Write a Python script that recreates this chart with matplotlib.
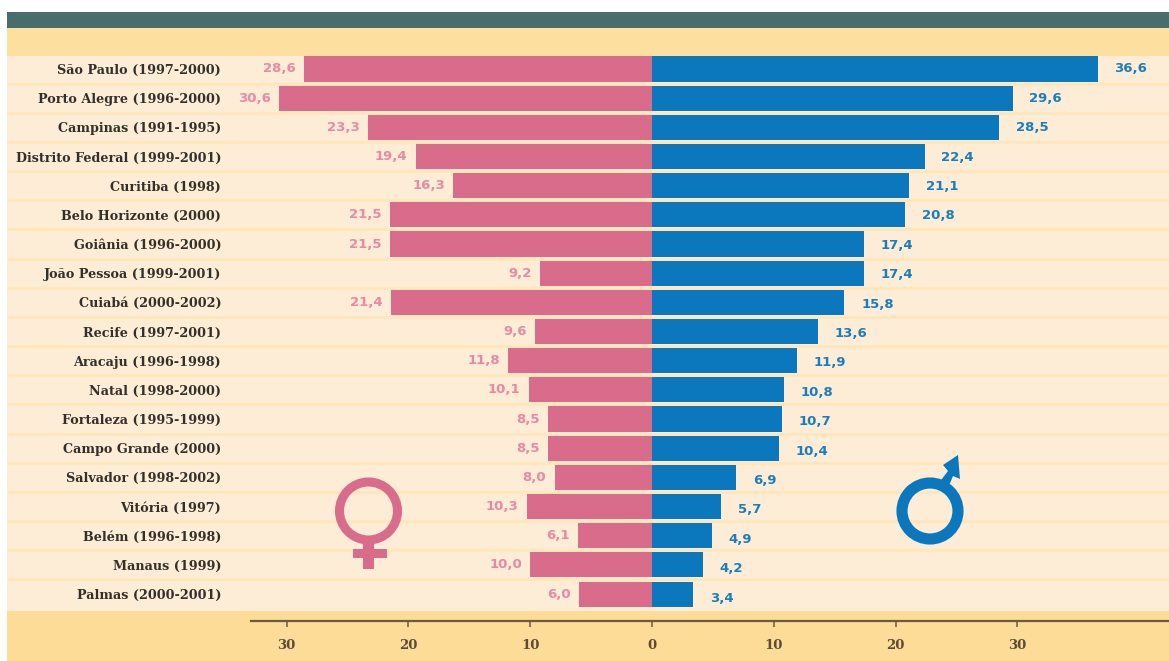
import matplotlib
matplotlib.use('Agg')
import matplotlib.pyplot as plt
from matplotlib.patches import Rectangle, Circle, Polygon

cities = ['São Paulo (1997-2000)', 'Porto Alegre (1996-2000)', 'Campinas (1991-1995)',
          'Distrito Federal (1999-2001)', 'Curitiba (1998)', 'Belo Horizonte (2000)',
          'Goiânia (1996-2000)', 'João Pessoa (1999-2001)', 'Cuiabá (2000-2002)',
          'Recife (1997-2001)', 'Aracaju (1996-1998)', 'Natal (1998-2000)',
          'Fortaleza (1995-1999)', 'Campo Grande (2000)', 'Salvador (1998-2002)',
          'Vitória (1997)', 'Belém (1996-1998)', 'Manaus (1999)', 'Palmas (2000-2001)']
women = [28.6, 30.6, 23.3, 19.4, 16.3, 21.5, 21.5, 9.2, 21.4, 9.6,
         11.8, 10.1, 8.5, 8.5, 8.0, 10.3, 6.1, 10.0, 6.0]
men = [36.6, 29.6, 28.5, 22.4, 21.1, 20.8, 17.4, 17.4, 15.8, 13.6,
       11.9, 10.8, 10.7, 10.4, 6.9, 5.7, 4.9, 4.2, 3.4]
x_ticks = [-30, -20, -10, 0, 10, 20, 30]

W, H = 1169, 661
PINK = '#d96b8b'
BLUE = '#0b78bd'
SERIF = 'DejaVu Serif'

fig = plt.figure(figsize=(W / 100, H / 100), dpi=100, facecolor='white')

# background in pixel coordinates
bg = fig.add_axes([0, 0, 1, 1], zorder=0)
bg.set_xlim(0, W)
bg.set_ylim(H, 0)
bg.axis('off')
bg.add_patch(Rectangle((7, 12), W - 7, 16, color='#476e6c', lw=0))
bg.add_patch(Rectangle((7, 28), W - 7, 28, color='#fde0a0', lw=0))
bg.add_patch(Rectangle((7, 56), W - 7, 555, color='#fdecd6', lw=0))
bg.add_patch(Rectangle((7, 611), W - 7, 50, color='#fddc98', lw=0))
for i in range(1, len(cities)):
    bg.plot([7, W], [54.4 + 29.17 * i] * 2, color='#fee7ba', lw=2.2, solid_capstyle='butt')

# chart axes: x 0 at px 652, 12.18 px per unit, rows 29.17 px apart
left, right, top, bottom = 251, W, 56, 621
ax = fig.add_axes([left / W, 1 - bottom / H, (right - left) / W, (bottom - top) / H], zorder=1)
ax.patch.set_alpha(0)
ax.set_xlim((left - 652) / 12.18, (right - 652) / 12.18)
ax.set_ylim((bottom - 69) / 29.17, (top - 69) / 29.17)

rows = range(len(cities))
ax.barh(rows, [-v for v in women], height=0.86, color=PINK, lw=0)
ax.barh(rows, men, height=0.86, color=BLUE, lw=0)

for i in rows:
    ax.annotate(f'{women[i]:.1f}'.replace('.', ','), (-women[i], i), xytext=(-6, 0),
                textcoords='offset points', ha='right', va='center', color='#e58ba3',
                fontsize=9.5, fontweight='bold', family='DejaVu Sans')
    ax.annotate(f'{men[i]:.1f}'.replace('.', ','), (men[i], i), xytext=(12, -0.16 * i),
                textcoords='offset points', ha='left', va='center', color='#1a7dbd',
                fontsize=9.5, fontweight='bold', family='DejaVu Sans')

for name in ['top', 'right', 'left']:
    ax.spines[name].set_visible(False)
ax.spines['bottom'].set_color('#6b5a40')
ax.spines['bottom'].set_linewidth(1.6)

ax.set_yticks(list(rows))
ax.set_yticklabels(cities, family=SERIF, fontweight='bold', fontsize=9.2, color='#33302a')
ax.tick_params(axis='y', length=0, pad=21.5)
ax.set_xticks(x_ticks)
ax.set_xticklabels([str(abs(t)) for t in x_ticks], family=SERIF, fontweight='bold',
                   fontsize=9.5, color='#5a4c38')
ax.tick_params(axis='x', length=4, width=1.1, color='#6b5a40', pad=9)

# gender symbols, pixel coordinates
sym = fig.add_axes([0, 0, 1, 1], zorder=2)
sym.set_xlim(0, W)
sym.set_ylim(H, 0)
sym.axis('off')
sym.add_patch(Rectangle((363, 543), 11, 26, color=PINK, lw=0))
sym.add_patch(Rectangle((353, 549), 34, 9, color=PINK, lw=0))
sym.add_patch(Circle((368.5, 511), 29, fill=False, ec=PINK, lw=6.5))
sym.add_patch(Polygon([(938, 484), (948, 488), (953, 476), (960, 479), (958, 455),
                       (943, 465), (948, 471)], color=BLUE, lw=0))
sym.add_patch(Circle((930, 511), 28, fill=False, ec=BLUE, lw=8))

fig.savefig('out.png', dpi=100)
